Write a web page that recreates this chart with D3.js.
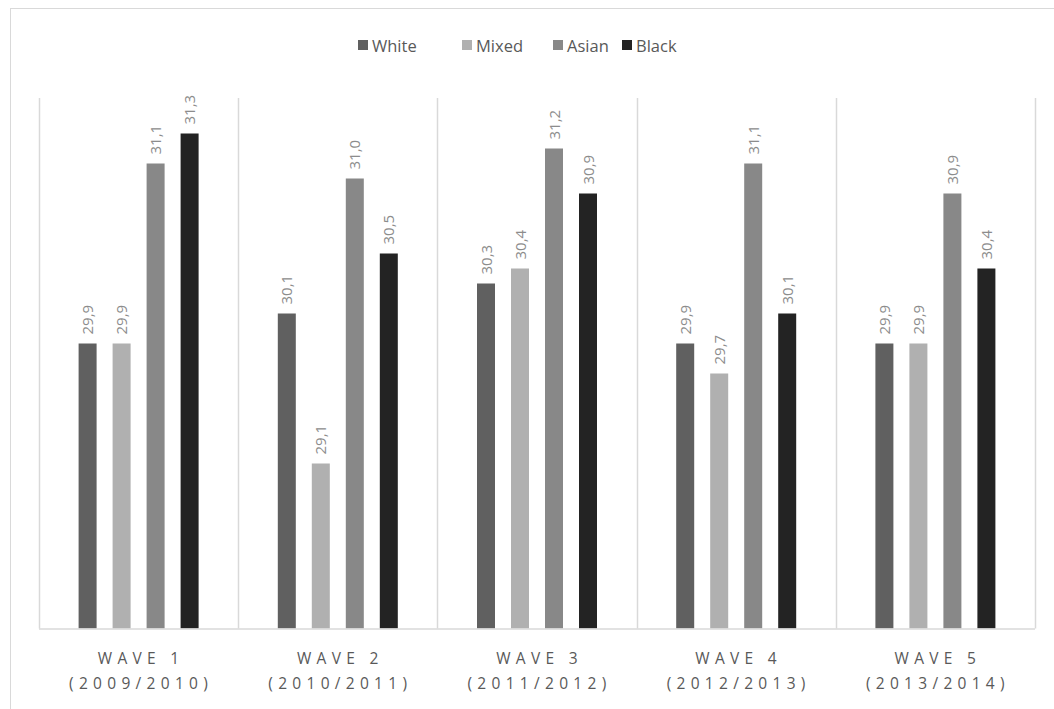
<!DOCTYPE html>
<html>
<head>
<meta charset="utf-8">
<script src="https://cdn.jsdelivr.net/npm/d3@7"></script>
<style>
  html, body { margin: 0; padding: 0; background: #fff; }
  svg { display: block; }
</style>
</head>
<body>
<svg id="chart" width="1054" height="709"></svg>
<script>
// Waves of the survey and their fieldwork years
const waves = ["WAVE 1", "WAVE 2", "WAVE 3", "WAVE 4", "WAVE 5"];
const waveYears = ["(2009/2010)", "(2010/2011)", "(2011/2012)", "(2012/2013)", "(2013/2014)"];

// Ethnic groups shown as the bars inside each wave
const groups = ["White", "Mixed", "Asian", "Black"];
const groupColors = ["#606060", "#b0b0b0", "#888888", "#232323"];

// Values per group, one entry per wave
const white = [29.9, 30.1, 30.3, 29.9, 29.9];
const mixed = [29.9, 29.1, 30.4, 29.7, 29.9];
const asian = [31.1, 31.0, 31.2, 31.1, 30.9];
const black = [31.3, 30.5, 30.9, 30.1, 30.4];
const seriesValues = [white, mixed, asian, black];

// Value axis range (axis itself is hidden)
const yMin = 28, yMax = 31.5;

const svg = d3.select("#chart");
const textColor = "#595959";
const labelColor = "#8c8c8c";
const lineColor = "#d9d9d9";
const font = "'Open Sans', 'Noto Sans', sans-serif";

// Chart frame
svg.append("rect")
  .attr("x", 10.5).attr("y", 8.5)
  .attr("width", 1100).attr("height", 760)
  .attr("fill", "none").attr("stroke", lineColor).attr("stroke-width", 1);

const plot = { left: 39, right: 1035, top: 98, bottom: 628.5 };

const x0 = d3.scaleBand().domain(waves).range([plot.left, plot.right]).paddingInner(0).paddingOuter(0);
const groupPitch = 34, barW = 18;
const x1 = d3.scaleBand().domain(groups)
  .range([-2 * groupPitch, 2 * groupPitch]).paddingInner(1 - barW / groupPitch).paddingOuter((1 - barW / groupPitch) / 2);

const y = d3.scaleLinear().domain([yMin, yMax]).range([plot.bottom, plot.bottom - 150 * (yMax - yMin)]);

// Category separators
const seps = waves.map(w => x0(w)).concat([x0.range()[1]]);
svg.append("g").selectAll("line").data(seps).join("line")
  .attr("x1", d => Math.round(d) + 0.5).attr("x2", d => Math.round(d) + 0.5)
  .attr("y1", plot.top).attr("y2", plot.bottom)
  .attr("stroke", lineColor).attr("stroke-width", 1.5);

// Bars
const rows = [];
waves.forEach((w, i) => groups.forEach((g, j) => rows.push({ wave: w, group: g, gi: j, value: seriesValues[j][i] })));

const barG = svg.append("g");
barG.selectAll("rect").data(rows).join("rect")
  .attr("x", d => x0(d.wave) + x0.bandwidth() / 2 + x1(d.group))
  .attr("width", x1.bandwidth())
  .attr("y", d => y(d.value))
  .attr("height", d => y(yMin) - y(d.value))
  .attr("fill", d => groupColors[d.gi]);

// Value labels, rotated, above each bar
barG.selectAll("text").data(rows).join("text")
  .attr("transform", d => {
    const cx = x0(d.wave) + x0.bandwidth() / 2 + x1(d.group) + x1.bandwidth() / 2;
    return `translate(${cx + 5.5},${y(d.value) - 9}) rotate(-90)`;
  })
  .attr("text-anchor", "start")
  .attr("font-family", font).attr("font-size", 15)
  .attr("fill", labelColor)
  .text(d => d3.format(".1f")(d.value).replace(".", ","));

// Baseline
svg.append("line")
  .attr("x1", plot.left).attr("x2", plot.right)
  .attr("y1", plot.bottom + 0.5).attr("y2", plot.bottom + 0.5)
  .attr("stroke", lineColor).attr("stroke-width", 1.5);

// Category labels
const catG = svg.append("g");
waves.forEach((w, i) => {
  const cx = x0(w) + x0.bandwidth() / 2;
  const t = catG.append("text")
    .attr("text-anchor", "middle")
    .attr("font-family", font).attr("font-size", 15.5)
    .attr("letter-spacing", "5.3px")
    .attr("fill", textColor);
  t.append("tspan").attr("x", cx + 2.5).attr("y", 664).text(w);
  t.append("tspan").attr("x", cx + 2.5).attr("y", 689).text(waveYears[i]);
});

// Legend
const legendX = [358, 462, 553, 622];
const legend = svg.append("g");
groups.forEach((g, j) => {
  legend.append("rect")
    .attr("x", legendX[j]).attr("y", 40)
    .attr("width", 10).attr("height", 10)
    .attr("fill", groupColors[j]);
  legend.append("text")
    .attr("x", legendX[j] + 14).attr("y", 51.5)
    .attr("font-family", font).attr("font-size", 16.5)
    .attr("fill", textColor)
    .text(g);
});
</script>
</body>
</html>
